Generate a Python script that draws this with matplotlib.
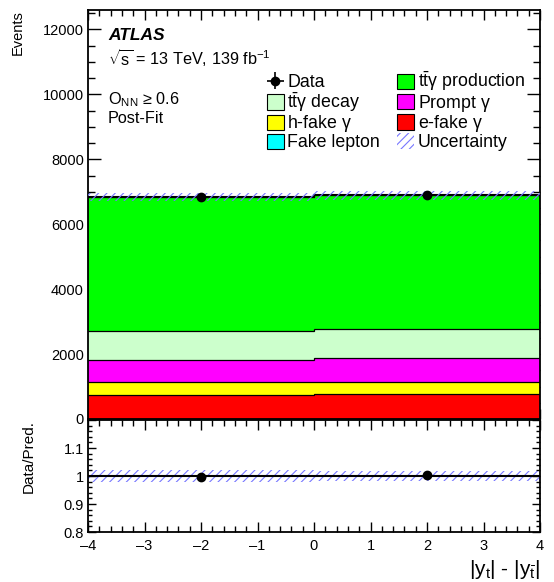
import matplotlib
matplotlib.use("Agg")
import matplotlib.pyplot as plt
import numpy as np
from matplotlib.patches import Patch
from matplotlib.ticker import MultipleLocator, FuncFormatter

plt.rcParams['font.family'] = ['Liberation Sans', 'DejaVu Sans']
plt.rcParams['mathtext.fontset'] = 'custom'
plt.rcParams['mathtext.rm'] = 'Liberation Sans'
plt.rcParams['mathtext.it'] = 'Liberation Sans:italic'
plt.rcParams['mathtext.bf'] = 'Liberation Sans:bold'
plt.rcParams['hatch.linewidth'] = 0.8

# ---- data ----
edges = [-4, 0, 4]
fake_lepton = [3, 3]
e_fake = [737, 757]
h_fake = [390, 390]
prompt = [695, 736]
ttg_decay = [892, 884]
ttg_prod = [4123, 4122]
unc_abs = [135, 135]
data = [6824, 6909]
bin_centers = [-2, 2]

components = [
    ("Fake lepton", fake_lepton, "#00ffff"),
    (r"e-fake $\mathrm{\gamma}$", e_fake, "#ff0000"),
    (r"h-fake $\mathrm{\gamma}$", h_fake, "#ffff00"),
    (r"Prompt $\mathrm{\gamma}$", prompt, "#ff00ff"),
    (r"$\mathrm{t\bar{t}\gamma}$ decay", ttg_decay, "#ccffcc"),
    (r"$\mathrm{t\bar{t}\gamma}$ production", ttg_prod, "#00ff00"),
]

W, H = 554, 582
fig = plt.figure(figsize=(W / 100, H / 100), dpi=100)
L, R = 88 / W, 540 / W
ax = fig.add_axes([L, 1 - 419 / H, R - L, (419 - 10) / H])
rax = fig.add_axes([L, 1 - 532 / H, R - L, (532 - 420) / H])

hatch_col = "#7777ff"

bottom = np.zeros(2)
handles = {}
for name, vals, col in components:
    vals = np.array(vals, float)
    top = bottom + vals
    ax.stairs(top, edges, baseline=bottom, fill=True, color=col, lw=0, zorder=2)
    ax.stairs(top, edges, baseline=None, color="black", lw=0.9, zorder=3)
    handles[name] = Patch(facecolor=col, edgecolor="black", lw=0.8)
    bottom = top
total = bottom
ax.stairs(total, edges, baseline=None, color="black", lw=1.5, zorder=4)

unc = np.array(unc_abs, float)
ext_x = np.array(edges, float)
lo = np.append(total - unc, (total - unc)[-1])
hi = np.append(total + unc, (total + unc)[-1])
ax.fill_between(ext_x, lo, hi, step="post", facecolor="none",
                edgecolor=hatch_col, hatch="////", lw=0, zorder=5)

data = np.array(data, float)
ax.errorbar(bin_centers, data, yerr=np.sqrt(data), fmt="o", color="black",
            ms=6, lw=1.2, capsize=0, zorder=6)
# legend-only handle (off-screen)
data_handle = ax.errorbar([np.nan], [np.nan], xerr=[1], yerr=[1], fmt="o",
                          color="black", ms=6, lw=1.2, capsize=0)

ax.set_xlim(-4, 4)
ax.set_ylim(0, 12600)
ax.yaxis.set_major_locator(MultipleLocator(2000))
ax.yaxis.set_minor_locator(MultipleLocator(500))
ax.xaxis.set_major_locator(MultipleLocator(1))
ax.xaxis.set_minor_locator(MultipleLocator(0.2))
ax.tick_params(axis="x", labelbottom=False)

# ratio
ratio = data / total
rel = unc / total
rlo = np.append(1 - rel, (1 - rel)[-1])
rhi = np.append(1 + rel, (1 + rel)[-1])
rax.fill_between(ext_x, rlo, rhi, step="post", facecolor="none",
                 edgecolor=hatch_col, hatch="////", lw=0, zorder=2)
rax.stairs(total / total, edges, baseline=None, color="black", lw=1.5, zorder=3)
rax.errorbar(bin_centers, ratio, yerr=np.sqrt(data) / total, fmt="o",
             color="black", ms=6, lw=1.2, capsize=0, zorder=4)
rax.set_xlim(-4, 4)
rax.set_ylim(0.8, 1.2)
rax.yaxis.set_major_locator(MultipleLocator(0.1))
rax.yaxis.set_minor_locator(MultipleLocator(0.02))
rax.xaxis.set_major_locator(MultipleLocator(1))
rax.xaxis.set_minor_locator(MultipleLocator(0.2))
rax.yaxis.set_major_formatter(FuncFormatter(
    lambda v, p: "" if v > 1.15 else ("%g" % round(v, 2))))
rax.xaxis.set_major_formatter(FuncFormatter(lambda v, p: "%g" % v if v >= 0 else "\u2013%g" % -v))

for a in (ax, rax):
    a.tick_params(which="both", direction="in", top=True, right=True,
                  labelsize=10.5, width=1.0, pad=3)
    for s in a.spines.values():
        s.set_linewidth(1.3)
ax.tick_params(axis="y", which="major", length=9.5)
ax.tick_params(axis="y", which="minor", length=5)
ax.tick_params(axis="x", which="major", length=7.5)
ax.tick_params(axis="x", which="minor", length=4)
rax.tick_params(axis="y", which="major", length=6)
rax.tick_params(axis="y", which="minor", length=3)
rax.tick_params(axis="x", which="major", length=7.5)
rax.tick_params(axis="x", which="minor", length=4)
rax.tick_params(axis="x", pad=5)

# labels
fig.text(18 / W, 1 - 10 / H, "Events", rotation=90, ha="center", va="top", fontsize=10.5)
fig.text(29 / W, 1 - 420 / H, "Data/Pred.", rotation=90, ha="center", va="top", fontsize=11)
fig.text(540 / W, 1 - 581 / H, r"|y$_{\mathrm{t}}$| - |y$_{\bar{\mathrm{t}}}$|",
         ha="right", va="bottom", fontsize=15)

fig.text(108 / W, 1 - 35 / H, "ATLAS", fontsize=12.5, fontweight="bold",
         fontstyle="italic", va="center")
fig.text(108 / W, 1 - 58 / H, r"$\sqrt{\mathrm{s}}$ = 13 TeV, 139 fb$^{\mathrm{-1}}$",
         fontsize=11.7, va="center")
fig.text(108 / W, 1 - 100 / H, r"O$_{\mathrm{NN}}$ ≥ 0.6", fontsize=11.7, va="center")
fig.text(108 / W, 1 - 119 / H, "Post-Fit", fontsize=11.7, va="center")

unc_handle = Patch(facecolor="none", edgecolor=hatch_col, hatch="////", lw=0)
order = [
    (data_handle, "Data"),
    (handles[r"$\mathrm{t\bar{t}\gamma}$ decay"], r"$\mathrm{t\bar{t}\gamma}$ decay"),
    (handles[r"h-fake $\mathrm{\gamma}$"], r"h-fake $\mathrm{\gamma}$"),
    (handles["Fake lepton"], "Fake lepton"),
    (handles[r"$\mathrm{t\bar{t}\gamma}$ production"], r"$\mathrm{t\bar{t}\gamma}$ production"),
    (handles[r"Prompt $\mathrm{\gamma}$"], r"Prompt $\mathrm{\gamma}$"),
    (handles[r"e-fake $\mathrm{\gamma}$"], r"e-fake $\mathrm{\gamma}$"),
    (unc_handle, "Uncertainty"),
]
leg = fig.legend([h for h, _ in order], [l for _, l in order], ncol=2,
                 loc="upper left", bbox_to_anchor=(267 / W, 1 - 70 / H),
                 frameon=False, fontsize=12.8, handlelength=0.95, handleheight=0.95,
                 handletextpad=0.2, columnspacing=0.95, labelspacing=-0.04,
                 borderaxespad=0, borderpad=0)

fig.savefig("out.png", dpi=100)
